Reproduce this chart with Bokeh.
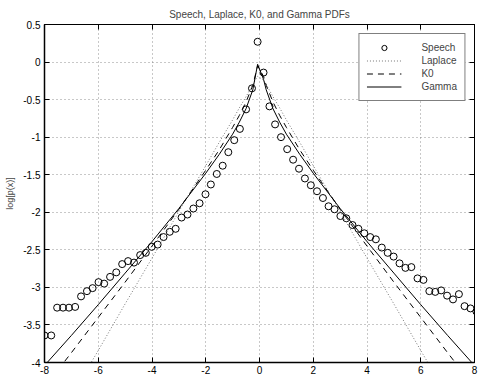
from bokeh.plotting import figure
from bokeh.models import (LinearAxis, FixedTicker, Range1d, Label, Legend,
                          LegendItem, CustomLabelingPolicy)
from bokeh.embed import file_html
from bokeh.resources import INLINE

FONT = "Liberation Sans"

# ---- data ----
speech_x = [-8.00, -7.75, -7.53, -7.31, -7.09, -6.86, -6.64, -6.42, -6.21, -5.99,
            -5.78, -5.56, -5.33, -5.11, -4.89, -4.67, -4.44, -4.23, -4.01, -3.79,
            -3.57, -3.34, -3.12, -2.90, -2.68, -2.46, -2.23, -2.01, -1.81, -1.59,
            -1.37, -1.16, -0.94, -0.73, -0.50, -0.28, -0.07,
            0.15, 0.37, 0.58, 0.80, 1.03, 1.25, 1.47, 1.69, 1.91, 2.14,
            2.36, 2.57, 2.79, 3.01, 3.23, 3.46, 3.68, 3.90, 4.12, 4.33,
            4.55, 4.77, 4.99, 5.21, 5.43, 5.65, 5.88, 6.10, 6.32, 6.54,
            6.76, 6.98, 7.20, 7.42, 7.63, 7.85, 8.07]
speech_y = [-3.64, -3.64, -3.27, -3.27, -3.27, -3.26, -3.12, -3.05, -3.01, -2.93,
            -2.95, -2.86, -2.80, -2.69, -2.65, -2.67, -2.57, -2.54, -2.46, -2.43,
            -2.33, -2.26, -2.22, -2.07, -2.03, -1.95, -1.88, -1.76, -1.63, -1.49,
            -1.38, -1.20, -1.04, -0.89, -0.63, -0.35, 0.27,
            -0.14, -0.59, -0.83, -1.00, -1.16, -1.30, -1.42, -1.55, -1.64, -1.72,
            -1.81, -1.92, -1.96, -2.05, -2.08, -2.17, -2.22, -2.28, -2.33, -2.36,
            -2.47, -2.54, -2.59, -2.68, -2.74, -2.73, -2.88, -2.90, -3.05, -3.06,
            -3.04, -3.11, -3.16, -3.09, -3.25, -3.28, -3.32]

curve_x = [-8, -7, -6, -5, -4, -3, -2, -1.5, -1, -0.75, -0.5, -0.25, -0.07,
           0.15, 0.25, 0.5, 0.75, 1, 1.5, 2, 3, 4, 5, 6, 7, 8]
laplace_y = [-5.06, -4.45, -3.84, -3.22, -2.61, -1.99, -1.38, -1.07, -0.77, -0.61,
             -0.46, -0.30, -0.19, -0.24, -0.30, -0.46, -0.61, -0.77, -1.07, -1.38,
             -1.99, -2.61, -3.22, -3.84, -4.45, -5.06]
k0_y = [-4.33, -3.87, -3.40, -2.93, -2.45, -1.96, -1.44, -1.17, -0.87, -0.71,
        -0.53, -0.31, -0.05, -0.19, -0.31, -0.53, -0.71, -0.87, -1.17, -1.44,
        -1.96, -2.45, -2.93, -3.40, -3.87, -4.33]
gamma_y = [-4.04, -3.64, -3.23, -2.81, -2.39, -1.95, -1.48, -1.23, -0.96, -0.80,
           -0.62, -0.37, -0.03, -0.23, -0.37, -0.62, -0.80, -0.96, -1.23, -1.48,
           -1.95, -2.39, -2.81, -3.23, -3.64, -4.04]

x_ticks = [-8, -6, -4, -2, 0, 2, 4, 6, 8]
x_tick_labels = ["-8", "-6", "-4", "-2", "0", "2", "4", "6", "8"]
y_ticks = [-4, -3.5, -3, -2.5, -2, -1.5, -1, -0.5, 0, 0.5]
y_tick_labels = ["-4", "-3.5", "-3", "-2.5", "-2", "-1.5", "-1", "-0.5", "0", "0.5"]

p = figure(width=479, height=383, output_backend="svg", toolbar_location=None,
           x_range=Range1d(-8, 8), y_range=Range1d(-4, 0.5),
           min_border_left=44, min_border_right=0, min_border_top=24,
           min_border_bottom=21, title="Speech, Laplace, K0, and Gamma PDFs")
p.background_fill_color = "white"
p.border_fill_color = "white"
p.outline_line_color = "black"
p.outline_line_width = 1

p.title.text_font = FONT
p.title.text_font_size = "10px"
p.title.text_font_style = "normal"
p.title.align = "center"
p.title.standoff = 2

for ax, ticks, labels in ((p.xaxis[0], x_ticks, x_tick_labels),
                          (p.yaxis[0], y_ticks, y_tick_labels)):
    ax.ticker = FixedTicker(ticks=ticks)
    ax.major_label_overrides = dict(zip(ticks, labels))
    ax.major_tick_in = 5
    ax.major_tick_out = 0
    ax.minor_tick_line_color = None
    ax.axis_line_color = "black"
    ax.axis_line_width = 1.5
    ax.major_tick_line_color = "black"
    ax.major_label_text_font = FONT
    ax.major_label_text_font_size = "10px"
    ax.major_label_text_color = "black"
    ax.major_label_standoff = 4

p.xaxis.major_label_standoff = 3

p.yaxis.axis_label = "log[p(x)]"
p.yaxis.axis_label_text_font = FONT
p.yaxis.axis_label_text_font_size = "9px"
p.yaxis.axis_label_text_font_style = "normal"
p.yaxis.axis_label_standoff = 5

# box ticks on top and right (no labels)
for loc, ticks in (("above", x_ticks), ("right", y_ticks)):
    ax = LinearAxis(ticker=FixedTicker(ticks=ticks))
    ax.major_tick_in = 5
    ax.major_tick_out = 0
    ax.minor_tick_line_color = None
    ax.major_label_text_font_size = "1px"
    ax.major_label_policy = CustomLabelingPolicy(code="return new Set()")
    ax.major_label_standoff = 0
    ax.axis_line_color = "black"
    p.add_layout(ax, loc)

p.xgrid.ticker = FixedTicker(ticks=x_ticks)
p.ygrid.ticker = FixedTicker(ticks=y_ticks)
for g in (p.xgrid[0], p.ygrid[0]):
    g.grid_line_color = "#777777"
    g.grid_line_dash = "1 3"
    g.grid_line_width = 1
    g.grid_line_alpha = 0.8

r_sp = p.scatter(speech_x, speech_y, marker="circle", size=7, fill_color=None,
                 line_color="black", line_width=1)
r_la = p.line(curve_x, laplace_y, line_color="#777777", line_width=1, line_dash="1 2")
r_k0 = p.line(curve_x, k0_y, line_color="black", line_width=1, line_dash="6 5")
r_ga = p.line(curve_x, gamma_y, line_color="black", line_width=1)

legend = Legend(items=[LegendItem(label="Speech", renderers=[r_sp]),
                       LegendItem(label="Laplace", renderers=[r_la]),
                       LegendItem(label="K0", renderers=[r_k0]),
                       LegendItem(label="Gamma", renderers=[r_ga])],
                location="top_right")
legend.label_text_font = FONT
legend.label_text_font_size = "10px"
legend.glyph_width = 35
legend.glyph_height = 13
legend.label_height = 13
legend.label_standoff = 20
legend.spacing = 0
legend.padding = 7
legend.margin = 9
legend.border_line_color = "black"
legend.border_line_width = 1
legend.background_fill_color = "white"
legend.background_fill_alpha = 1
p.add_layout(legend)

xl = Label(x=0, y=-4, text="x", text_align="center", text_baseline="bottom",
           y_offset=-21, text_font=FONT, text_font_size="9px", text_color="black")
p.add_layout(xl)

open("out.html", "w").write(file_html(p, INLINE))
